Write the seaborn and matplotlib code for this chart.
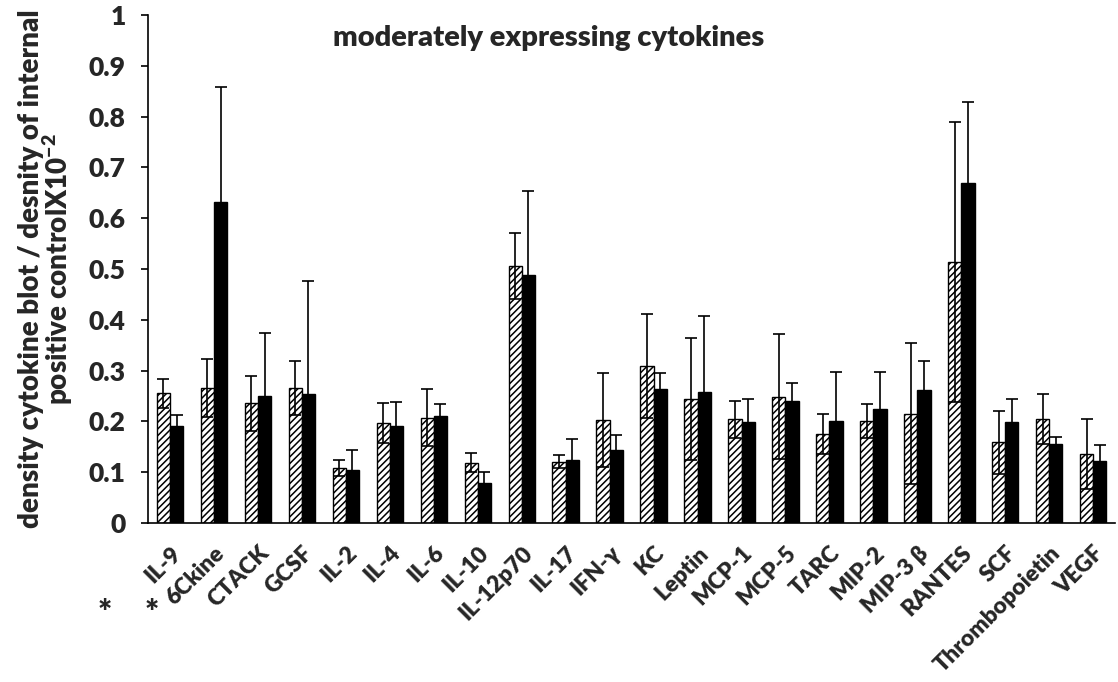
import seaborn as sns
import matplotlib.pyplot as plt
import pandas as pd
import numpy as np

# cytokine names (x axis)
cytokines = ["IL-9", "6Ckine", "CTACK", "GCSF", "IL-2", "IL-4", "IL-6", "IL-10",
             "IL-12p70", "IL-17", "IFN-γ", "KC", "Leptin", "MCP-1", "MCP-5", "TARC",
             "MIP-2", "MIP-3 β", "RANTES", "SCF", "Thrombopoietin", "VEGF"]

# hatched series (mean, error)
hatched_mean = [0.255, 0.265, 0.236, 0.266, 0.108, 0.197, 0.207, 0.119, 0.506, 0.121, 0.203,
                0.309, 0.244, 0.204, 0.249, 0.175, 0.201, 0.215, 0.514, 0.159, 0.204, 0.135]
hatched_err = [0.028, 0.057, 0.054, 0.053, 0.016, 0.040, 0.056, 0.019, 0.065, 0.013, 0.092,
               0.102, 0.120, 0.036, 0.123, 0.040, 0.033, 0.139, 0.276, 0.062, 0.049, 0.069]

# black series (mean, error)
black_mean = [0.191, 0.631, 0.251, 0.254, 0.104, 0.191, 0.211, 0.079, 0.488, 0.124, 0.144,
              0.264, 0.257, 0.198, 0.240, 0.201, 0.224, 0.262, 0.669, 0.199, 0.155, 0.122]
black_err = [0.021, 0.227, 0.124, 0.222, 0.040, 0.048, 0.023, 0.021, 0.166, 0.042, 0.029,
             0.032, 0.151, 0.047, 0.036, 0.097, 0.074, 0.056, 0.160, 0.046, 0.015, 0.032]

yticks = [0, 0.1, 0.2, 0.3, 0.4, 0.5, 0.6, 0.7, 0.8, 0.9, 1]
ytick_labels = ["0", "0.1", "0.2", "0.3", "0.4", "0.5", "0.6", "0.7", "0.8", "0.9", "1"]

df = pd.DataFrame({
    "Cytokine": cytokines * 2,
    "Group": ["A"] * len(cytokines) + ["B"] * len(cytokines),
    "Density": hatched_mean + black_mean,
    "Err": hatched_err + black_err,
})

W = "heavy"
sns.set_style("white")
plt.rcParams["font.family"] = ["Lato", "DejaVu Sans"]
plt.rcParams["font.weight"] = W
plt.rcParams["mathtext.fontset"] = "custom"
plt.rcParams["mathtext.rm"] = "Lato:heavy"
plt.rcParams["mathtext.default"] = "rm"
plt.rcParams["hatch.linewidth"] = 1.1

fig = plt.figure(figsize=(11.18, 6.82), dpi=100)
ax = fig.add_axes([0.1324, 0.2331, 0.8651, 0.7449])

sns.barplot(data=df, x="Cytokine", y="Density", hue="Group", order=cytokines,
            palette=["white", "black"], width=0.6, errorbar=None, legend=False,
            edgecolor="black", linewidth=1.0, ax=ax)

# hatch the first series, add error bars from the bar positions
n = len(cytokines)
for i, p in enumerate(ax.patches[:2 * n]):
    if i < n:
        p.set_hatch("/////")
    xc = p.get_x() + p.get_width() / 2
    ax.errorbar(xc, df["Density"][i], yerr=df["Err"][i], fmt="none",
                ecolor="black", elinewidth=1.2, capsize=4.5, capthick=1.2, zorder=3)

ax.set_xlim(-0.5, n - 0.5)
ax.set_ylim(0, 1)
ax.set_yticks(yticks)
ax.set_yticklabels(ytick_labels, fontsize=19, fontweight=W)
ax.set_xticks(range(n))
ax.set_xticklabels(cytokines, rotation=45, ha="right", rotation_mode="anchor",
                   fontsize=16.5, fontweight=W)
ax.set_xticks(np.arange(-0.5, n, 1), minor=True)
ax.tick_params(axis="x", which="major", length=0, pad=14)
ax.tick_params(axis="x", which="minor", length=6, width=1.2, direction="out", color="black")
ax.tick_params(axis="y", length=5, width=1.2, direction="out", color="black", left=True, pad=11)
ax.set_xlabel("")

for s in ["top", "right"]:
    ax.spines[s].set_visible(False)
for s in ["left", "bottom"]:
    ax.spines[s].set_color("black")
    ax.spines[s].set_linewidth(1.2)

ax.set_ylabel("density cytokine blot / desnity of internal\npositive controlX10$^{-2}$",
              fontsize=20, fontweight=W, va="center", linespacing=0.9)
ax.yaxis.set_label_coords(-0.105, 0.5)

ax.text(0.4137, 0.955, "moderately expressing cytokines", transform=ax.transAxes,
        ha="center", va="center", fontsize=21, fontweight=W)

fig.text(105 / 1118, 1 - 614 / 682, "*", ha="center", va="center", fontsize=24, fontweight=W)
fig.text(152 / 1118, 1 - 614 / 682, "*", ha="center", va="center", fontsize=24, fontweight=W)

plt.savefig("out.png", dpi=100)
